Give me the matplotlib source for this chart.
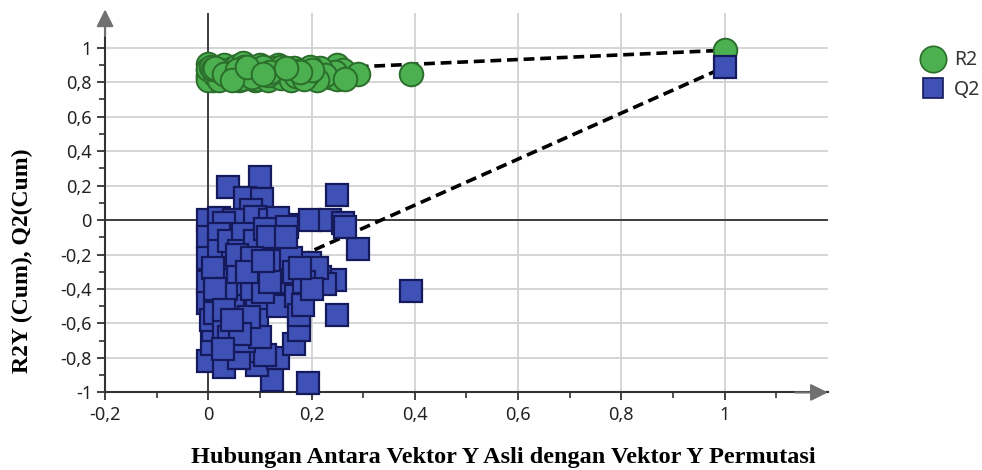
import numpy as np
import matplotlib
matplotlib.use('Agg')
import matplotlib.pyplot as plt
from matplotlib.lines import Line2D

# permutation results (correlation of permuted Y with original Y)
perm_corr = [0.100, 0.039, 0.072, 0.104, 0.250, 0.083, 0.000, 0.020, 0.050, 0.090,
             0.120, 0.153, 0.197, 0.236, 0.260, 0.135, 0.030, 0.290, 0.250, 0.392,
             0.245, 0.217, 0.226, 0.197, 0.210, 0.194, 0.124, 0.000, 0.030, 0.095,
             0.135, 0.165, 0.175, 0.087, 0.008, 0.010, 0.060, 0.110, 0.045, 0.000,
             0.000, 0.000, 0.000, 0.005, 0.020, 0.025, 0.023, 0.013, 0.020, 0.030,
             0.048, 0.043, 0.040, 0.050, 0.055, 0.040, 0.068, 0.081, 0.065, 0.070,
             0.075, 0.060, 0.070, 0.090, 0.095, 0.090, 0.100, 0.095, 0.100, 0.085,
             0.110, 0.115, 0.124, 0.125, 0.135, 0.140, 0.140, 0.145, 0.153, 0.160,
             0.165, 0.170, 0.175, 0.184, 0.185, 0.200, 0.178, 0.010, 0.035, 0.058,
             0.078, 0.105, 0.115, 0.062, 0.028, 0.012, 0.265, 0.030, 0.055, 0.085,
             0.120, 0.150, 0.045, 0.075, 0.105]
q2_perm = [0.25, 0.19, 0.13, 0.12, 0.145, 0.06, 0.00, 0.01, 0.00, 0.02,
           0.00, -0.03, 0.00, 0.00, -0.02, 0.01, -0.02, -0.17, -0.55, -0.41,
           -0.35, -0.33, -0.37, -0.25, -0.28, -0.945, -0.93, -0.82, -0.85, -0.84,
           -0.80, -0.72, -0.64, -0.76, -0.72, -0.64, -0.80, -0.78, -0.70, -0.10,
           -0.22, -0.36, -0.48, -0.58, -0.08, -0.30, -0.46, -0.54, -0.18, -0.62,
           -0.24, -0.45, -0.12, -0.35, -0.55, -0.68, -0.08, -0.26, -0.40, -0.50,
           -0.62, -0.18, -0.70, -0.49, -0.48, -0.12, -0.32, -0.58, -0.68, -0.40,
           -0.05, -0.20, -0.41, -0.30, -0.50, -0.12, -0.24, -0.36, -0.04, -0.22,
           -0.30, -0.44, -0.55, -0.49, -0.36, -0.40, -0.28, -0.28, -0.40, -0.30,
           -0.56, -0.42, -0.10, -0.66, -0.75, -0.40, -0.04, -0.52, -0.20, -0.22,
           -0.36, -0.10, -0.58, -0.30, -0.24]
r2_perm = [0.86, 0.88, 0.83, 0.89, 0.90, 0.85, 0.87, 0.82, 0.86, 0.81,
           0.88, 0.84, 0.86, 0.83, 0.87, 0.90, 0.89, 0.85, 0.82, 0.845,
           0.86, 0.88, 0.84, 0.89, 0.815, 0.85, 0.87, 0.83, 0.90, 0.82,
           0.855, 0.87, 0.83, 0.88, 0.86, 0.81, 0.845, 0.865, 0.82, 0.905,
           0.84, 0.815, 0.875, 0.89, 0.85, 0.83, 0.87, 0.84, 0.81, 0.86,
           0.88, 0.82, 0.87, 0.85, 0.895, 0.835, 0.91, 0.86, 0.82, 0.875,
           0.84, 0.81, 0.89, 0.83, 0.865, 0.845, 0.90, 0.82, 0.87, 0.835,
           0.85, 0.815, 0.88, 0.84, 0.86, 0.89, 0.825, 0.87, 0.845, 0.81,
           0.88, 0.835, 0.865, 0.85, 0.82, 0.87, 0.86, 0.875, 0.845, 0.83,
           0.86, 0.89, 0.84, 0.82, 0.855, 0.88, 0.82, 0.85, 0.87, 0.83,
           0.86, 0.88, 0.815, 0.89, 0.85]

# original model
orig_corr = 1.0
r2_orig = 0.985
q2_orig = 0.887
r2_intercept = 0.85
q2_intercept = -0.447

xticks = [-0.2, 0, 0.2, 0.4, 0.6, 0.8, 1]
xticklabels = ['-0,2', '0', '0,2', '0,4', '0,6', '0,8', '1']
yticks = [-1, -0.8, -0.6, -0.4, -0.2, 0, 0.2, 0.4, 0.6, 0.8, 1]
yticklabels = ['-1', '-0,8', '-0,6', '-0,4', '-0,2', '0', '0,2', '0,4', '0,6', '0,8', '1']

green = '#4caf50'
green_edge = '#2b6e2b'
blue = '#3f51b5'
blue_edge = '#151a5c'

fig = plt.figure(figsize=(9.82, 4.70), dpi=100)
ax = fig.add_axes([0.107, 0.165, 0.736, 0.807])

ax.set_xlim(-0.2, 1.2)
ax.set_ylim(-1, 1.2)

# grid
ax.set_xticks(xticks)
ax.set_xticklabels(xticklabels)
ax.set_yticks(yticks)
ax.set_yticklabels(yticklabels)
ax.set_xticks(np.arange(-0.2, 1.15, 0.1), minor=True)
ax.set_yticks(np.arange(-1, 1.05, 0.1), minor=True)
ax.grid(True, which='major', color='#d2d2d2', lw=1.3, zorder=0)
ax.set_axisbelow(True)
ax.axhline(0, color='#333333', lw=1.3, zorder=1)
ax.axvline(0, color='#333333', lw=1.3, zorder=1)

for s in ['top', 'right']:
    ax.spines[s].set_visible(False)
for s in ['left', 'bottom']:
    ax.spines[s].set_color('#333333')
    ax.spines[s].set_linewidth(1.5)

ax.tick_params(which='major', direction='out', length=6, width=1.3, color='#333333',
               labelsize=13, labelcolor='#222222')
ax.tick_params(which='minor', direction='out', length=4, width=1.2, color='#333333')
for lab in ax.get_xticklabels() + ax.get_yticklabels():
    lab.set_family('Noto Sans')

# axis arrows
ax.annotate('', xy=(1, 0), xycoords='axes fraction', xytext=(0.955, 0),
            arrowprops=dict(arrowstyle='-|>', mutation_scale=26, color='#707070',
                            shrinkA=0, shrinkB=0, lw=1.5), annotation_clip=False)
ax.annotate('', xy=(0, 1.01), xycoords='axes fraction', xytext=(0, 0.94),
            arrowprops=dict(arrowstyle='-|>', mutation_scale=26, color='#707070',
                            shrinkA=0, shrinkB=0, lw=1.5), annotation_clip=False)

# regression lines through intercepts
ax.plot([0, orig_corr], [r2_intercept, r2_orig], ls=(0, (3, 1.6)), color='black', lw=2.6, zorder=2)
ax.plot([0, orig_corr], [q2_intercept, q2_orig], ls=(0, (3, 1.6)), color='black', lw=2.6, zorder=2)

# points
ax.plot(perm_corr + [orig_corr], r2_perm + [r2_orig], 'o', ms=17, mfc=green, mec=green_edge,
        mew=1.4, zorder=3, clip_on=False)
ax.plot(perm_corr + [orig_corr], q2_perm + [q2_orig], 's', ms=16, mfc=blue, mec=blue_edge,
        mew=1.6, zorder=4, clip_on=False)

# legend
handles = [Line2D([], [], marker='o', ls='', ms=19, mfc=green, mec=green_edge, mew=1.2),
           Line2D([], [], marker='s', ls='', ms=15, mfc=blue, mec=blue_edge, mew=1.2)]
fig.legend(handles, ['R2', 'Q2'], loc='upper left', bbox_to_anchor=(0.912, 0.93),
           frameon=False, handletextpad=0.1, labelspacing=0.5,
           prop={'family': 'Noto Sans', 'size': 14}, labelcolor='#333333')

fig.text(0.513, 1 - 458 / 470, 'Hubungan Antara Vektor Y Asli dengan Vektor Y Permutasi',
         ha='center', va='center', family='Liberation Serif', weight='bold', size=17.5)
fig.text(22 / 982, 0.445, 'R2Y (Cum), Q2(Cum)', ha='center', va='center', rotation=90,
         family='Liberation Serif', weight='bold', size=17)

fig.savefig('out.png', dpi=100)
